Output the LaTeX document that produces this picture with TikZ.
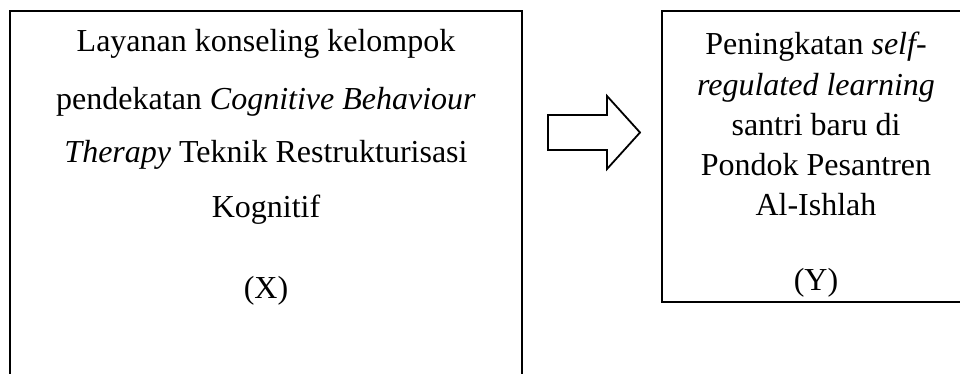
\documentclass[tikz,border=0pt]{standalone}
\usepackage{fontspec}
\setmainfont{Liberation Serif}
\begin{document}
\begin{tikzpicture}[x=1pt,y=1pt,
  every node/.style={font=\fontsize{32}{38}\selectfont},
  varbox/.style={draw, line width=1.8pt, rectangle, inner sep=0pt},
  txt/.style={anchor=base, inner sep=0pt},
  blockarrow/.style={draw, line width=1.8pt, line join=miter, fill=white}]
\clip (0,0) rectangle (960,373);
% independent variable box (runs off the bottom edge)
\node[varbox, minimum width=512pt, minimum height=382pt] (xbox) at (266,171) {};
\node[txt] (x1) at (266,321) {Layanan konseling kelompok};
\node[txt] (x2) at (266,264) {pendekatan \textit{Cognitive Behaviour}};
\node[txt] (x3) at (266,211) {\textit{Therapy} Teknik Restrukturisasi};
\node[txt] (x4) at (266,156) {Kognitif};
\node[txt] (xl) at (266,75) {(X)};
% dependent variable box (runs off the right edge)
\node[varbox, minimum width=310pt, minimum height=291pt] (ybox) at (817,216.5) {};
\node[txt] (y1) at (816,318) {Peningkatan \textit{self-}};
\node[txt] (y2) at (816,278) {\textit{regulated learning}};
\node[txt] (y3) at (816,238) {santri baru di};
\node[txt] (y4) at (816,198) {Pondok Pesantren};
\node[txt] (y5) at (816,158) {Al-Ishlah};
\node[txt] (yl) at (816,83) {(Y)};
% block arrow from X to Y
\coordinate (tip) at (640,240.5);
\draw[blockarrow] (548,258) -- (607,258) -- (607,277) -- (tip) -- (607,204)
  -- (607,223) -- (548,223) -- cycle;
\end{tikzpicture}
\end{document}
